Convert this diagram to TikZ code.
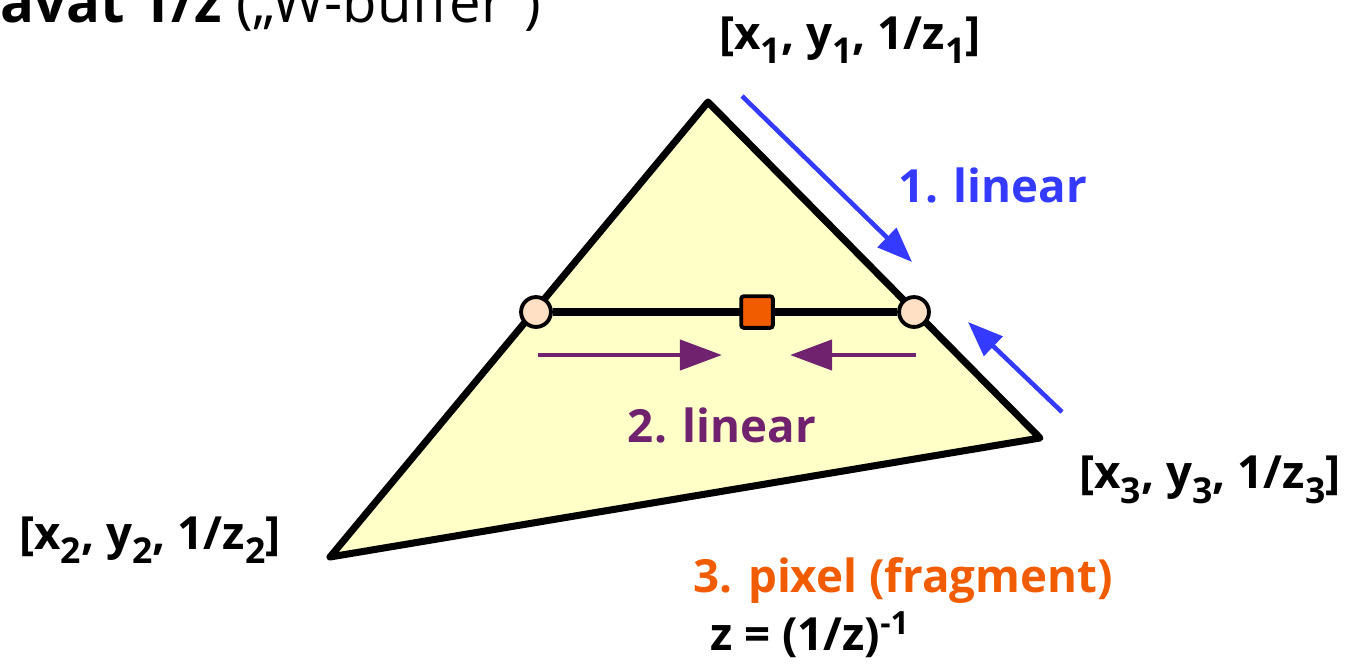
\documentclass[tikz,border=0pt]{standalone}
\usepackage{fontspec}
\setmainfont{Open Sans}
\usetikzlibrary{arrows.meta}
\definecolor{cFace}{RGB}{255,255,200}
\definecolor{cDot}{RGB}{255,224,196}
\definecolor{cPix}{RGB}{242,92,0}
\definecolor{cBlue}{RGB}{52,58,255}
\definecolor{cPurple}{RGB}{112,34,110}
\newcommand{\lowidx}[1]{\raisebox{-0.32em}{\scalebox{0.78}{#1}}}
\tikzset{
  edge/.style={line width=4pt, draw=black, line join=round},
  vlab/.style={font=\fontsize{26}{30}\selectfont\bfseries, text=black},
  step1/.style={-{Triangle[length=20pt, width=15pt]}, line width=2.6pt, draw=cBlue},
  step2/.style={-{Triangle[length=24pt, width=17pt]}, line width=2.8pt, draw=cPurple},
  dot/.style={circle, draw=black, line width=2.2pt, fill=cDot, minimum size=17pt, inner sep=0pt},
  pix/.style={rectangle, rounded corners=1.5pt, draw=black, line width=2.2pt, fill=cPix, minimum size=18pt, inner sep=0pt},
}

\begin{document}
\begin{tikzpicture}[x=0.02cm, y=-0.02cm]
\useasboundingbox (0,0) rectangle (1348,667);

% ===== triangle =====
\coordinate (v1) at (708,102);
\coordinate (v2) at (330,557);
\coordinate (v3) at (1040,438);
\filldraw[edge, fill=cFace] (v1) -- (v2) -- (v3) -- cycle;

% ===== scanline =====
\node[dot] (pl) at (536,312) {};
\node[dot] (pr) at (914,312) {};
\draw[edge] (pl) -- (pr);
\node[pix] (px) at (757,312) {};

% ===== interpolation arrows =====
\coordinate (b1s) at (742,96);
\coordinate (b1e) at (912,262);
\coordinate (b2s) at (1062,412);
\coordinate (b2e) at (968,322);
\draw[step1] (b1s) -- (b1e);
\draw[step1] (b2s) -- (b2e);

\coordinate (p1s) at (538,355);
\coordinate (p1e) at (722,355);
\coordinate (p2s) at (916,355);
\coordinate (p2e) at (790,355);
\draw[step2] (p1s) -- (p1e);
\draw[step2] (p2s) -- (p2e);

% ===== labels =====
\node[vlab] (l1) at (850,40) {[x\lowidx{1}, y\lowidx{1}, 1/z\lowidx{1}]};
\node[vlab] (l2) at (150,540) {[x\lowidx{2}, y\lowidx{2}, 1/z\lowidx{2}]};
\node[vlab] (l3) at (1210,480) {[x\lowidx{3}, y\lowidx{3}, 1/z\lowidx{3}]};
\node[vlab, text=cBlue] (s1) at (993,185) {1. linear};
\node[vlab, text=cPurple] (s2) at (722,425) {2. linear};
\node[vlab, text=cPix] (s3) at (903,580) {3. pixel (fragment)};
\node[vlab] (zz) at (810,635) {z = (1/z)\textsuperscript{-1}};

\node[anchor=base west, inner sep=0pt, font=\fontsize{32}{36}\selectfont] (ttl) at (0,22)
  {\textbf{avat 1/z} („W-buffer“)};

\end{tikzpicture}
\end{document}
